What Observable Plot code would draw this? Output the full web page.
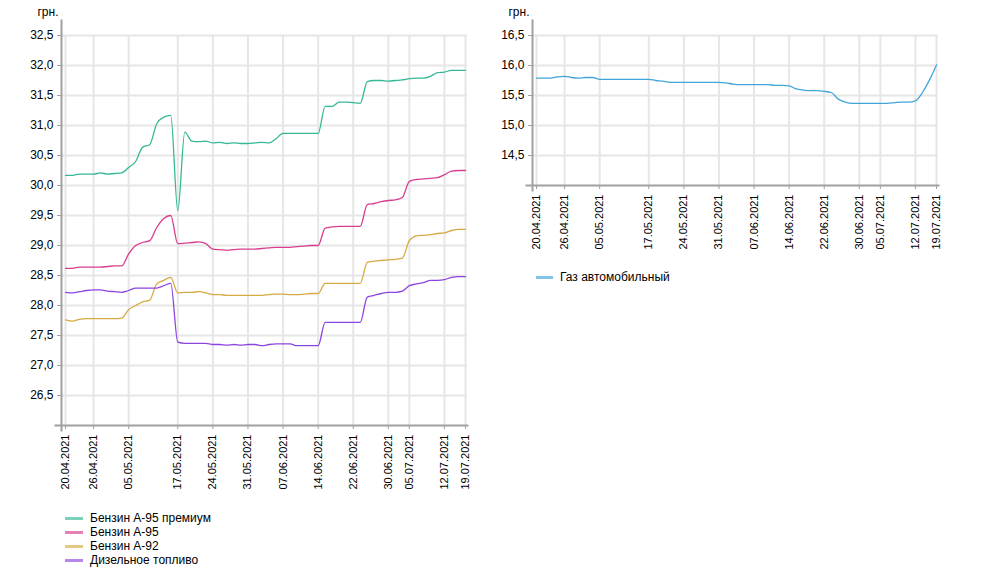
<!DOCTYPE html>
<html>
<head>
<meta charset="utf-8">
<script src="https://cdn.jsdelivr.net/npm/d3@7"></script>
<script src="https://cdn.jsdelivr.net/npm/@observablehq/plot@0.6"></script>
<style>
  body { margin:0; background:#fff; font-family:"Liberation Sans", Arial, sans-serif; }
  #wrap { position:relative; width:987px; height:578px; overflow:hidden; }
  .chart { position:absolute; top:0; }
  .legend { position:absolute; font-size:12px; color:#000; }
  .item { display:flex; align-items:center; height:14px; white-space:nowrap; }
  .sw { display:inline-block; height:3px; margin-right:7px; }
</style>
</head>
<body>
<div id="wrap">
  <div id="left" class="chart" style="left:0px"></div>
  <div id="right" class="chart" style="left:471px"></div>
  <div id="legLeft" class="legend" style="left:65px; top:511px"></div>
  <div id="legRight" class="legend" style="left:536px; top:270px"></div>
</div>
<script>
const dates = ["20.04.2021","21.04.2021","22.04.2021","23.04.2021","26.04.2021","27.04.2021","28.04.2021","29.04.2021","30.04.2021",
"05.05.2021","06.05.2021","07.05.2021","11.05.2021","12.05.2021","13.05.2021","14.05.2021","17.05.2021","18.05.2021","19.05.2021","20.05.2021","21.05.2021","24.05.2021","25.05.2021","26.05.2021","27.05.2021","28.05.2021","31.05.2021",
"01.06.2021","02.06.2021","03.06.2021","04.06.2021","07.06.2021","08.06.2021","09.06.2021","10.06.2021","11.06.2021","14.06.2021","15.06.2021","16.06.2021","17.06.2021","18.06.2021","22.06.2021","23.06.2021","24.06.2021","25.06.2021","29.06.2021","30.06.2021",
"01.07.2021","02.07.2021","05.07.2021","06.07.2021","07.07.2021","08.07.2021","09.07.2021","12.07.2021","14.07.2021","16.07.2021","19.07.2021"];

const tickDates = ["20.04.2021","26.04.2021","05.05.2021","17.05.2021","24.05.2021","31.05.2021","07.06.2021","14.06.2021","22.06.2021","30.06.2021","05.07.2021","12.07.2021","19.07.2021"];

const a95prem = [30.17,30.17,30.19,30.19,30.19,30.21,30.19,30.20,30.21,30.30,
30.40,30.64,30.68,31.03,31.14,31.17,29.58,30.89,30.74,30.73,
30.74,30.71,30.72,30.70,30.71,30.70,30.70,30.71,30.72,30.71,
30.78,30.87,30.87,30.87,30.87,30.87,30.87,31.32,31.32,31.39,
31.39,31.38,31.37,31.73,31.75,31.75,31.74,31.75,31.76,31.78,
31.79,31.79,31.82,31.88,31.89,31.92,31.92,31.92];

const a95 = [28.62,28.62,28.64,28.64,28.64,28.64,28.65,28.66,28.66,28.86,
29.00,29.05,29.08,29.30,29.45,29.50,29.03,29.04,29.05,29.06,
29.03,28.94,28.93,28.92,28.93,28.94,28.94,28.94,28.95,28.96,
28.97,28.97,28.97,28.98,28.99,29.00,29.00,29.29,29.31,29.32,
29.32,29.32,29.32,29.68,29.70,29.73,29.75,29.76,29.80,30.07,
30.10,30.11,30.12,30.13,30.18,30.24,30.25,30.25];

const a92 = [27.76,27.74,27.77,27.78,27.78,27.78,27.78,27.78,27.79,27.93,
28.00,28.06,28.09,28.36,28.42,28.47,28.21,28.22,28.22,28.23,
28.21,28.18,28.18,28.17,28.17,28.17,28.17,28.17,28.17,28.18,
28.19,28.19,28.18,28.18,28.19,28.20,28.20,28.37,28.37,28.37,
28.37,28.37,28.37,28.72,28.74,28.75,28.76,28.77,28.79,29.08,
29.16,29.17,29.18,29.20,29.21,29.25,29.27,29.27];

const diesel = [28.22,28.21,28.23,28.25,28.26,28.26,28.24,28.23,28.22,28.25,
28.29,28.29,28.29,28.29,28.33,28.37,27.39,27.37,27.37,27.37,
27.37,27.35,27.35,27.34,27.35,27.34,27.35,27.35,27.33,27.35,
27.36,27.36,27.36,27.33,27.33,27.33,27.33,27.72,27.72,27.72,
27.72,27.72,27.72,28.14,28.17,28.20,28.22,28.22,28.24,28.33,
28.36,28.38,28.42,28.42,28.43,28.47,28.48,28.48];

const gas = [15.79,15.79,15.79,15.81,15.82,15.80,15.79,15.80,15.80,15.77,
15.77,15.77,15.77,15.77,15.77,15.77,15.77,15.75,15.74,15.72,
15.72,15.72,15.72,15.72,15.72,15.72,15.72,15.71,15.69,15.68,
15.68,15.68,15.68,15.68,15.67,15.67,15.66,15.61,15.59,15.58,
15.58,15.57,15.55,15.44,15.39,15.37,15.37,15.37,15.37,15.37,
15.37,15.38,15.39,15.39,15.41,15.55,15.76,16.01];

const leftNames = ["Бензин А-95 премиум","Бензин А-95","Бензин А-92","Дизельное топливо"];
const leftColors = ["#35b896","#d83d8e","#d6aa44","#8d45e0"];
const leftSeries = [a95prem, a95, a92, diesel];
const rightNames = ["Газ автомобильный"];
const rightColors = ["#42a5da"];
const rightSeries = [gas];

const leftYTicks = [26.5,27.0,27.5,28.0,28.5,29.0,29.5,30.0,30.5,31.0,31.5,32.0,32.5];
const rightYTicks = [14.5,15.0,15.5,16.0,16.5];
const yUnit = "грн.";

const tickIdx = tickDates.map(d => dates.indexOf(d));
const fmt = d => d.toFixed(1).replace(".", ",");

function chart(names, colors, series, yDomain, yTicks, height) {
  const rows = [];
  series.forEach((arr, k) => arr.forEach((v, i) => rows.push({i, v, s: names[k]})));
  return Plot.plot({
    width: 490, height,
    marginLeft: 61, marginRight: 23, marginTop: 35, marginBottom: 75,
    insetLeft: 4, insetRight: 2,
    x: {type: "linear", domain: [0, dates.length - 1]},
    y: {domain: yDomain},
    color: {domain: names, range: colors},
    style: {fontFamily: "'Liberation Sans', Arial, sans-serif", fontSize: "12px", color: "#000", background: "transparent", overflow: "visible"},
    marks: [
      Plot.gridY(yTicks, {stroke: "#e6e6e6", strokeOpacity: 1, strokeWidth: 2}),
      Plot.gridX(tickIdx, {stroke: "#e6e6e6", strokeOpacity: 1, strokeWidth: 2}),
      Plot.frame({anchor: "left", stroke: "#a0a0a0", strokeWidth: 2, insetTop: -15, insetBottom: -5}),
      Plot.frame({anchor: "bottom", stroke: "#a0a0a0", strokeWidth: 2, insetLeft: -6}),
      Plot.axisY(yTicks, {tickFormat: fmt, tickSize: 4, tickPadding: 4, stroke: "#a0a0a0", fill: "#000", fontSize: 12, label: null}),
      Plot.axisX(tickIdx, {tickFormat: i => dates[i], tickRotate: -90, tickSize: 4, tickPadding: 5, stroke: "#a0a0a0", fill: "#000", fontSize: 11, label: null}),
      Plot.line(rows, {x: "i", y: "v", stroke: "s", z: "s", curve: "monotone-x", strokeWidth: 1.3}),
      Plot.text([yUnit], {frameAnchor: "top-left", textAnchor: "end", dx: -3, dy: -28, fontSize: 12, fill: "#000"})
    ]
  });
}

document.getElementById("left").appendChild(chart(leftNames, leftColors, leftSeries, [26, 32.5], leftYTicks, 500));
document.getElementById("right").appendChild(chart(rightNames, rightColors, rightSeries, [14, 16.5], rightYTicks, 260));

function legend(el, names, colors, swW) {
  names.forEach((n, k) => {
    const it = document.createElement("div");
    it.className = "item";
    const sw = document.createElement("span");
    sw.className = "sw";
    sw.style.width = swW + "px";
    sw.style.background = colors[k];
    sw.style.opacity = 0.65;
    it.appendChild(sw);
    it.appendChild(document.createTextNode(n));
    el.appendChild(it);
  });
}
legend(document.getElementById("legLeft"), leftNames, leftColors, 18);
legend(document.getElementById("legRight"), rightNames, rightColors, 17);
</script>
</body>
</html>
